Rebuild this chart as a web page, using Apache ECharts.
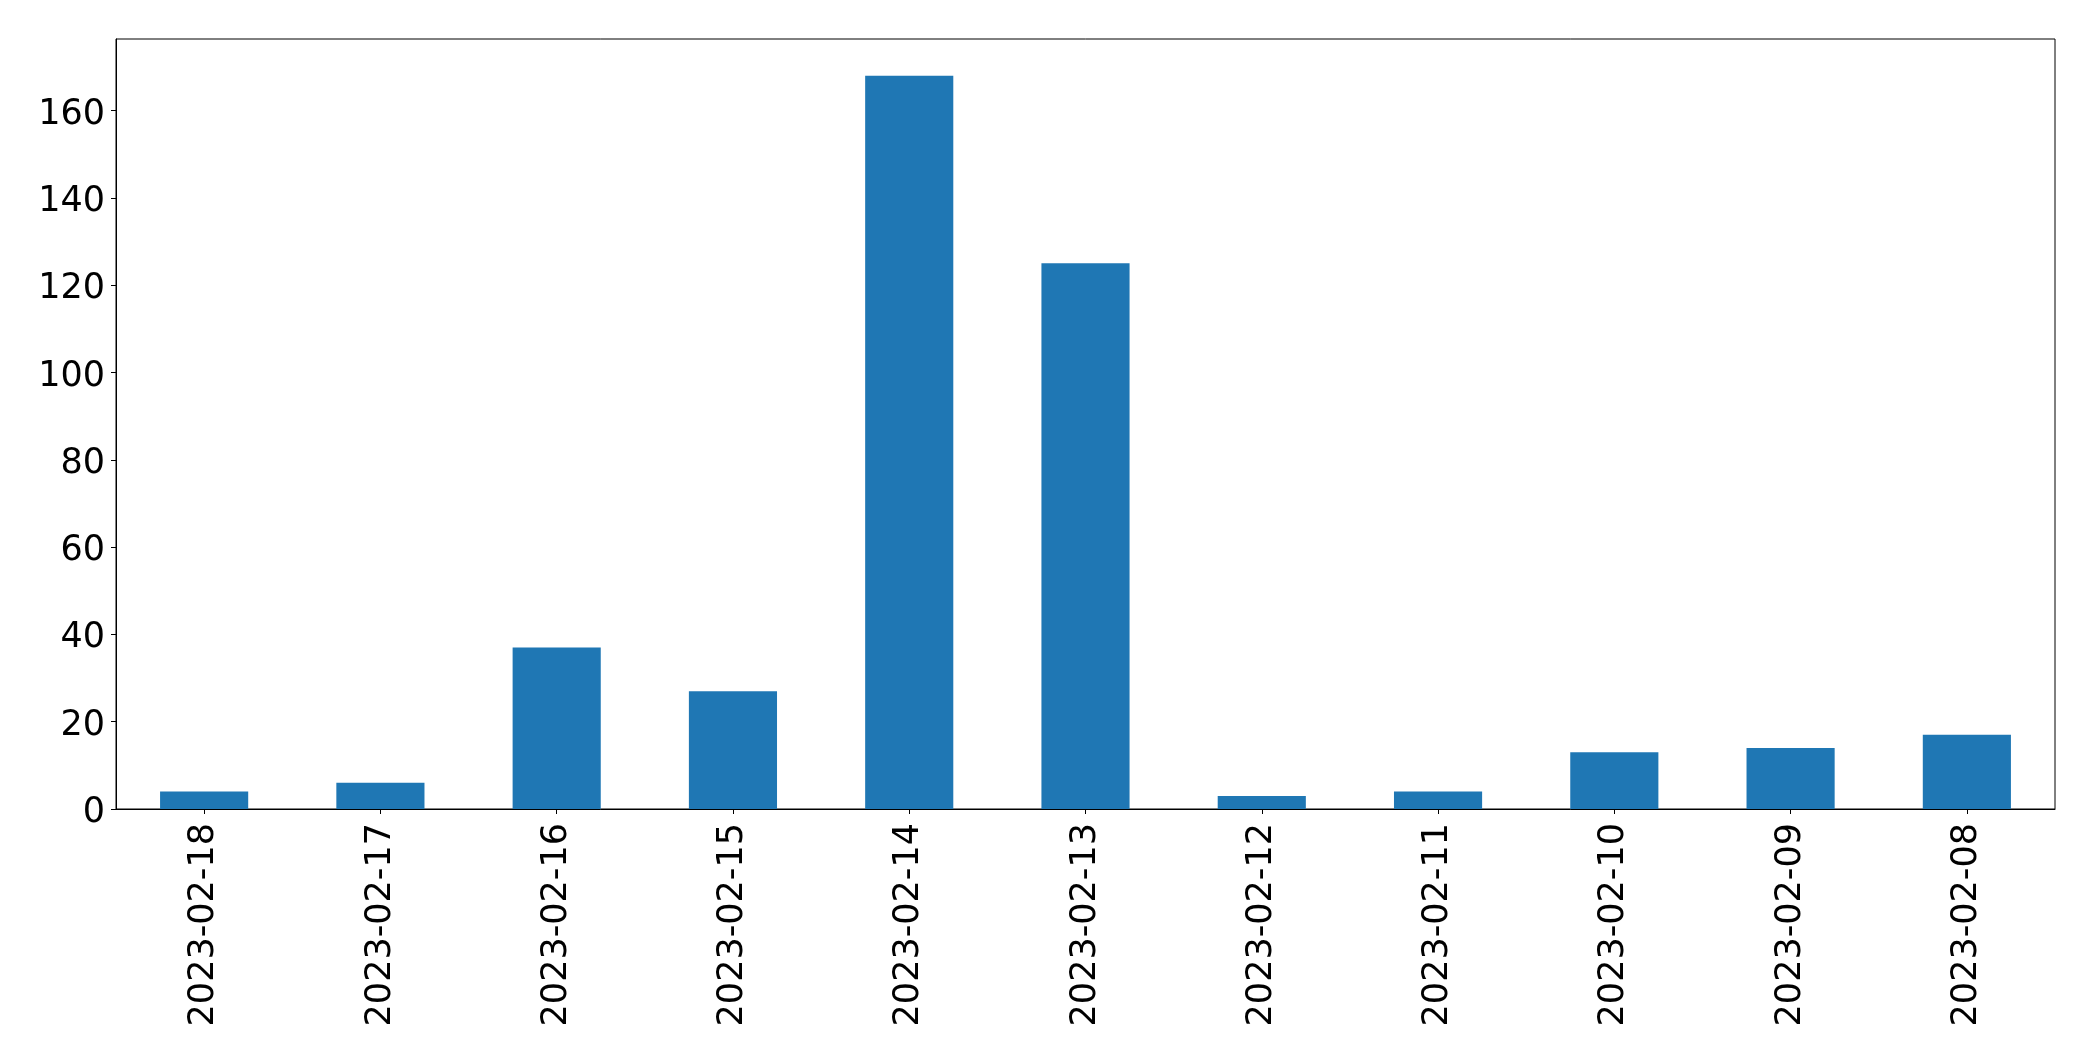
<!DOCTYPE html>
<html>
<head>
<meta charset="utf-8">
<script src="https://cdn.jsdelivr.net/npm/echarts@6/dist/echarts.min.js"></script>
<style>
html,body{margin:0;padding:0;background:#fff;}
#chart{width:2093px;height:1061px;}
</style>
</head>
<body>
<div id="chart"></div>
<script>
const categories = ["2023-02-18","2023-02-17","2023-02-16","2023-02-15","2023-02-14","2023-02-13","2023-02-12","2023-02-11","2023-02-10","2023-02-09","2023-02-08"];
const values = [4, 6, 37, 27, 168, 125, 3, 4, 13, 14, 17];
const yTicks = [0, 20, 40, 60, 80, 100, 120, 140, 160];
const yMax = 176.4;

const chart = echarts.init(document.getElementById('chart'), null, {renderer: 'canvas'});
const font = '"DejaVu Sans", sans-serif';
chart.setOption({
  animation: false,
  backgroundColor: '#ffffff',
  grid: {
    left: 116, right: 38, top: 39, bottom: 252,
    show: true, borderColor: '#000', borderWidth: 1, backgroundColor: 'transparent'
  },
  xAxis: {
    type: 'category',
    data: categories,
    boundaryGap: true,
    axisLine: {show: true, lineStyle: {color: '#000', width: 1}},
    axisTick: {show: true, alignWithLabel: true, length: 5, lineStyle: {color: '#000', width: 1}},
    axisLabel: {rotate: 90, margin: 14, color: '#000', fontSize: 35, fontFamily: font, interval: 0},
    splitLine: {show: false}
  },
  yAxis: {
    type: 'value',
    min: 0, max: yMax, interval: 20,
    axisLine: {show: true, lineStyle: {color: '#000', width: 1}},
    axisTick: {show: true, length: 5, lineStyle: {color: '#000', width: 1}, customValues: yTicks},
    axisLabel: {
      margin: 11, color: '#000', fontSize: 35, fontFamily: font, customValues: yTicks,
      formatter: '{v|{value}}',
      rich: {v: {fontSize: 35, fontFamily: font, color: '#000', padding: [8, 0, 0, 0]}}
    },
    splitLine: {show: false}
  },
  series: [{
    type: 'bar',
    data: values,
    barWidth: '50%',
    itemStyle: {color: '#1f77b4'}
  }]
});
</script>
</body>
</html>
